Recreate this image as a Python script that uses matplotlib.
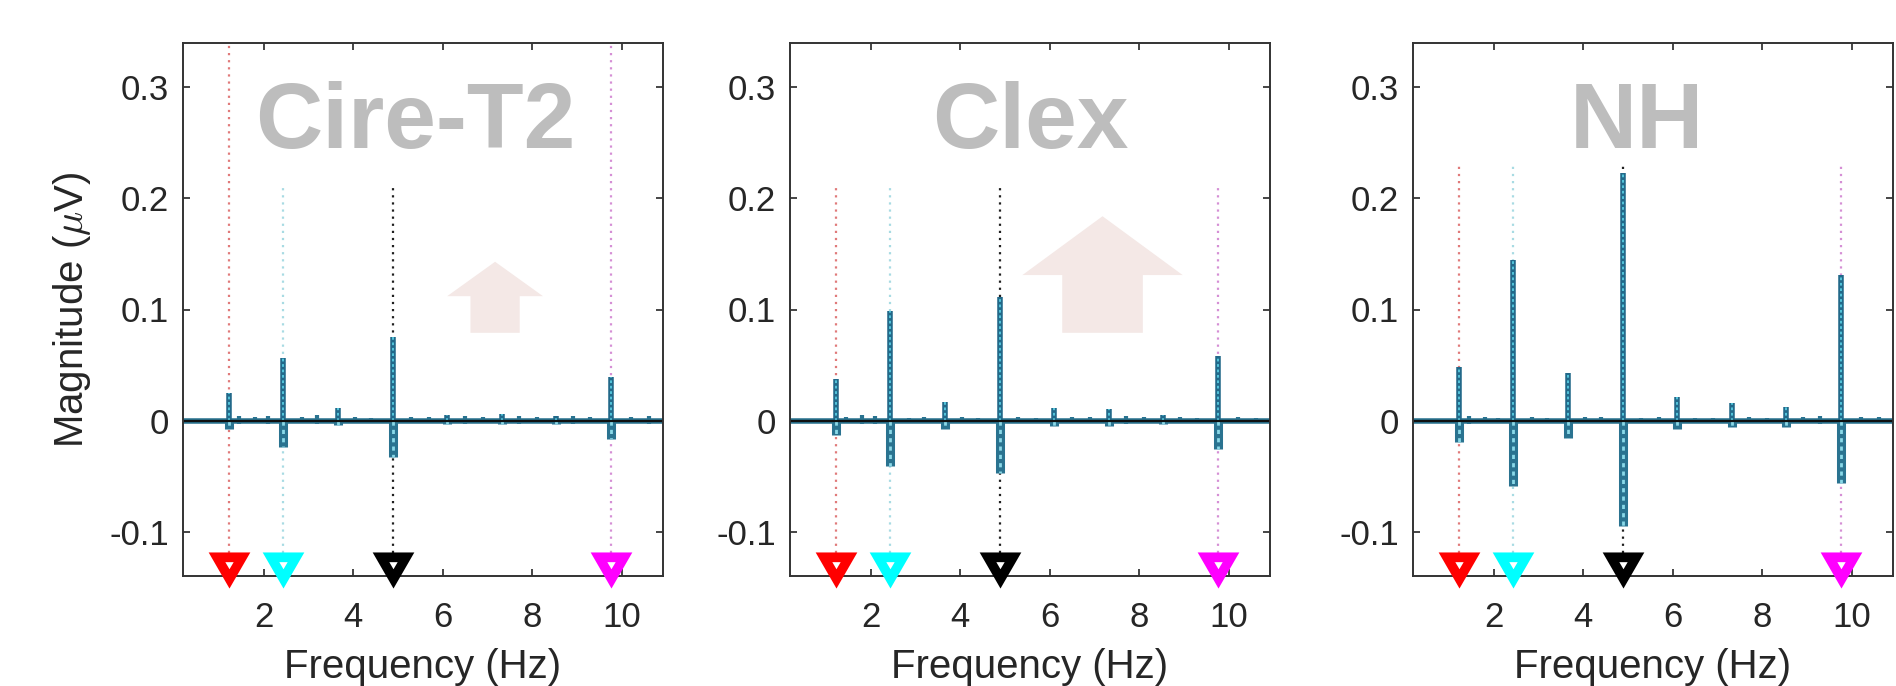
import numpy as np
import matplotlib.pyplot as plt
from matplotlib.path import Path
from matplotlib.patches import FancyArrow

plt.rcParams['font.family'] = ['Liberation Sans', 'DejaVu Sans']
plt.rcParams['mathtext.fontset'] = 'cm'

panel_names = ['Cire-T2', 'Clex', 'NH']
name_x = [0.485, 0.5, 0.467]

# tagged frequencies (Hz)
tag_freqs = [1.22, 2.44, 4.88, 9.76]
tag_colors = ['#ff0000', '#00ffff', '#000000', '#ff00ff']
guide_colors = ['#e07a7a', '#a8dbe3', '#202020', '#d58fd5']
cire_guide_top = [0.34, 0.212, 0.212, 0.34]
clex_guide_top = [0.212, 0.212, 0.212, 0.212]
nh_guide_top = [0.232, 0.232, 0.232, 0.232]

# harmonics of 1.22 Hz, spike top / bottom (uV)
harm_freqs = [1.22, 2.44, 3.66, 4.88, 6.10, 7.32, 8.54, 9.76, 10.98]
cire_top = [0.025, 0.056, 0.011, 0.075, 0.005, 0.006, 0.004, 0.039, 0.003]
cire_bot = [-0.008, -0.024, -0.004, -0.033, -0.003, -0.003, -0.003, -0.017, -0.002]
clex_top = [0.037, 0.099, 0.017, 0.111, 0.011, 0.010, 0.005, 0.058, 0.003]
clex_bot = [-0.013, -0.041, -0.008, -0.047, -0.005, -0.005, -0.003, -0.026, -0.002]
nh_top = [0.048, 0.145, 0.043, 0.223, 0.021, 0.016, 0.012, 0.131, 0.012]
nh_bot = [-0.019, -0.059, -0.016, -0.095, -0.008, -0.006, -0.006, -0.056, -0.006]

# small ripples between the harmonics
ripple_freqs = [1.45, 1.8, 2.1, 2.85, 3.2, 4.05, 4.4, 5.3, 5.7, 6.5, 6.9,
                7.7, 8.1, 8.9, 9.3, 10.2, 10.6]
cire_ripple = [0.004, 0.003, 0.004, 0.003, 0.005, 0.003, 0.002, 0.003, 0.003,
               0.004, 0.003, 0.004, 0.003, 0.004, 0.003, 0.003, 0.004]
clex_ripple = [0.003, 0.005, 0.004, 0.002, 0.003, 0.003, 0.002, 0.003, 0.002,
               0.003, 0.003, 0.004, 0.003, 0.003, 0.002, 0.003, 0.002]
nh_ripple = [0.004, 0.003, 0.002, 0.003, 0.002, 0.003, 0.003, 0.002, 0.003,
             0.002, 0.002, 0.003, 0.002, 0.003, 0.004, 0.003, 0.003]

# up arrows (centre Hz, base uV, length uV, stem width Hz, head width Hz, head length uV)
arrow_x = [7.17, 7.18, None]
arrow_base = [0.079, 0.079, None]
arrow_len = [0.064, 0.105, None]
arrow_stem = [1.1, 1.8, None]
arrow_head_w = [2.14, 3.58, None]
arrow_head_l = [0.031, 0.053, None]

ytick_vals = [-0.1, 0, 0.1, 0.2, 0.3]
ytick_labels = ['-0.1', '0', '0.1', '0.2', '0.3']
xtick_vals = [2, 4, 6, 8, 10]

tops = [cire_top, clex_top, nh_top]
bots = [cire_bot, clex_bot, nh_bot]
ripples = [cire_ripple, clex_ripple, nh_ripple]
guide_tops = [cire_guide_top, clex_guide_top, nh_guide_top]

# open triangle marker (triangle with a small hole)
outer = [(-0.5, 0.433), (0.5, 0.433), (0.0, -0.433), (-0.5, 0.433)]
inner = [(-0.1, 0.2), (0.0, 0.03), (0.1, 0.2), (-0.1, 0.2)]
codes = [Path.MOVETO, Path.LINETO, Path.LINETO, Path.CLOSEPOLY] * 2
tri_marker = Path(outer + inner, codes)

fig = plt.figure(figsize=(18.96, 6.86), dpi=100)
lefts = [183 / 1896, 790 / 1896, 1413 / 1896]
ylo, yhi = -0.14, 0.34

for i, name in enumerate(panel_names):
    ax = fig.add_axes([lefts[i], 110 / 686, 480 / 1896, 533 / 686])
    ax.set_xlim(0.2, 10.92)
    ax.set_ylim(ylo, yhi)

    ax.text(name_x[i], 0.803, name, transform=ax.transAxes, ha='center',
            va='baseline', fontsize=67, fontweight='bold', color='#bdbdbd', zorder=1)

    if arrow_x[i] is not None:
        ax.add_patch(FancyArrow(arrow_x[i], arrow_base[i], 0, arrow_len[i],
                                width=arrow_stem[i], head_width=arrow_head_w[i],
                                head_length=arrow_head_l[i], length_includes_head=True,
                                color='#f4e8e6', lw=0, zorder=1))

    # guide lines
    for f, c, t in zip(tag_freqs, guide_colors, guide_tops[i]):
        ax.vlines(f, -0.119, t, colors=c, linestyles=(0, (1, 2.2)), lw=1.6, zorder=2)

    # baseline trace
    ax.axhline(0, color='#2a7390', lw=4, zorder=3)
    ax.vlines(ripple_freqs, [-0.7 * r for r in ripples[i]], ripples[i],
              colors='#2a7390', lw=3, zorder=3)

    # spikes
    ax.vlines(harm_freqs, 0, bots[i], colors='#2a7390', lw=6.5, zorder=3)
    ax.vlines(harm_freqs, 0, bots[i], colors='#8ad9e8', lw=2,
              linestyles=(0, (1.5, 1.5)), zorder=3)
    ax.vlines(harm_freqs, 0, tops[i], colors='#22698a', lw=4, zorder=3)
    ax.vlines(harm_freqs, 0, tops[i], colors='#58cde2', lw=1.3,
              linestyles=(0, (1.5, 1.5)), zorder=3)
    ax.axhline(0, color='#101010', lw=1.6, zorder=4)

    # triangle markers at the tagged frequencies
    for f, c in zip(tag_freqs, tag_colors):
        ax.plot(f, ylo + 0.0058, ls='none', marker=tri_marker, ms=30,
                color=c, mew=0, clip_on=False, zorder=6)

    ax.set_xticks(xtick_vals)
    ax.set_yticks(ytick_vals)
    ax.set_yticklabels(ytick_labels)
    ax.tick_params(direction='in', length=5, width=1.2, top=True, right=True,
                   labelsize=25, colors='#262626')
    ax.tick_params(axis='x', pad=18)
    ax.tick_params(axis='y', pad=10)
    for s in ax.spines.values():
        s.set_color('#333333')
        s.set_linewidth(1.4)
        s.set_zorder(5)
    ax.set_xlabel('Frequency (Hz)', fontsize=29, color='#262626', labelpad=10)
    if i == 0:
        ax.set_ylabel(r'Magnitude ($\mu$V)', fontsize=29, color='#262626', labelpad=12)

fig.savefig('out.png', dpi=100)
